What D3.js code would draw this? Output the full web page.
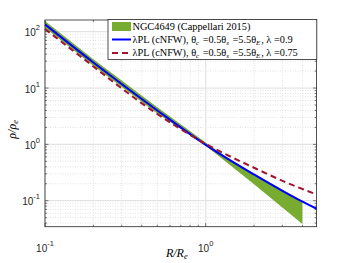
<!DOCTYPE html>
<html>
<head>
<meta charset="utf-8">
<script src="https://cdn.jsdelivr.net/npm/d3@7"></script>
<style>
  body { margin: 0; background: #fff; }
  .tick-label { font-family: "Liberation Sans", Arial, sans-serif; font-size: 10px; fill: #262626; }
  .tex { font-family: "Liberation Serif", "Times New Roman", serif; fill: #000; }
</style>
</head>
<body>
<svg id="chart"></svg>
<script>
// Cappellari 2015 band (upper / lower edge)
const bandX = [0.1, 0.2, 0.5, 1, 1.416, 2, 4];
const bandUpper = [155, 32.5, 4.55, 1.08, 0.54, 0.305, 0.098];
const bandLower = [118, 25, 3.55, 0.95, 0.43, 0.195, 0.0387];

// lambda = 0.9 model
const blueX = [0.1, 0.2, 0.5, 1, 2, 3.86, 4.9];
const blueY = [135, 28.4, 4.0, 0.98, 0.291, 0.101, 0.072];

// lambda = 0.75 model
const redX = [0.1, 0.165, 0.47, 1, 2, 3.03, 4.9];
const redY = [112, 37, 3.9, 1.02, 0.385, 0.223, 0.129];

const xMajor = [0.1, 1];
const yMajor = [0.1, 1, 10, 100];

const legendLabels = [
  'NGC4649 (Cappellari 2015)',
  'λPL (cNFW), θ<sub>c</sub> =0.5θ<sub>s</sub> =5.5θ<sub>E</sub>, λ =0.9',
  'λPL (cNFW), θ<sub>c</sub> =0.5θ<sub>s</sub> =5.5θ<sub>E</sub>, λ =0.75'
];

const config = {
  width: 350, height: 263,
  margin: { top: 20, left: 45 },
  innerW: 271.6, innerH: 206.7
};

const svg = d3.select('#chart')
  .attr('width', config.width)
  .attr('height', config.height);

const g = svg.append('g')
  .attr('transform', `translate(${config.margin.left},${config.margin.top})`);

const x = d3.scaleLog().domain([0.1, 4.9]).range([0, config.innerW]);
const y = d3.scaleLog().domain([0.03455, 161.4]).range([config.innerH, 0]);

// minor positions
const xMinor = [];
[0.1, 1].forEach(d => { for (let k = 2; k <= 9; k++) { const v = d * k; if (v <= 4.9) xMinor.push(v); } });
const yMinor = [];
[0.01, 0.1, 1, 10, 100].forEach(d => { for (let k = 2; k <= 9; k++) { const v = d * k; if (v >= 0.03455 && v <= 161.4) yMinor.push(v); } });

// grid lines
const grid = g.append('g');
grid.selectAll('.xminor').data(xMinor).join('line')
  .attr('x1', d => x(d)).attr('x2', d => x(d))
  .attr('y1', 0).attr('y2', config.innerH)
  .attr('stroke', '#cfcfcf').attr('stroke-width', 0.6).attr('stroke-dasharray', '1,1.5');
grid.selectAll('.yminor').data(yMinor).join('line')
  .attr('y1', d => y(d)).attr('y2', d => y(d))
  .attr('x1', 0).attr('x2', config.innerW)
  .attr('stroke', '#cfcfcf').attr('stroke-width', 0.6).attr('stroke-dasharray', '1,1.5');
grid.selectAll('.xmajor').data(xMajor).join('line')
  .attr('x1', d => x(d)).attr('x2', d => x(d))
  .attr('y1', 0).attr('y2', config.innerH)
  .attr('stroke', '#e3e3e3').attr('stroke-width', 1.2);
grid.selectAll('.ymajor').data(yMajor).join('line')
  .attr('y1', d => y(d)).attr('y2', d => y(d))
  .attr('x1', 0).attr('x2', config.innerW)
  .attr('stroke', '#e3e3e3').attr('stroke-width', 1.2);

// data marks
const band = bandX.map((d, i) => ({ x: d, lo: bandLower[i], hi: bandUpper[i] }));
g.append('path')
  .datum(band)
  .attr('fill', '#77ac30')
  .attr('d', d3.area()
    .x(d => x(d.x))
    .y0(d => y(d.lo))
    .y1(d => y(d.hi)));

const line = d3.line().x(d => x(d[0])).y(d => y(d[1])).curve(d3.curveMonotoneX);

g.append('path')
  .datum(blueX.map((d, i) => [d, blueY[i]]))
  .attr('fill', 'none')
  .attr('stroke', '#0000ff')
  .attr('stroke-width', 2)
  .attr('d', line);

g.append('path')
  .datum(redX.map((d, i) => [d, redY[i]]))
  .attr('fill', 'none')
  .attr('stroke', '#a2142f')
  .attr('stroke-width', 2)
  .attr('stroke-dasharray', '6,4')
  .attr('d', line);

// axes: ticks inward on all sides
const axisColor = '#262626';
const axes = g.append('g');
const tickDefs = [
  { data: xMajor, len: 3.5, scale: x, dir: 'x' },
  { data: xMinor, len: 2, scale: x, dir: 'x' },
  { data: yMajor, len: 3.5, scale: y, dir: 'y' },
  { data: yMinor, len: 2, scale: y, dir: 'y' }
];
tickDefs.forEach(t => {
  t.data.forEach(v => {
    const p = t.scale(v);
    if (t.dir === 'x') {
      axes.append('line').attr('x1', p).attr('x2', p).attr('y1', config.innerH).attr('y2', config.innerH - t.len)
        .attr('stroke', axisColor).attr('stroke-width', 0.6);
      axes.append('line').attr('x1', p).attr('x2', p).attr('y1', 0).attr('y2', t.len)
        .attr('stroke', axisColor).attr('stroke-width', 0.6);
    } else {
      axes.append('line').attr('y1', p).attr('y2', p).attr('x1', 0).attr('x2', t.len)
        .attr('stroke', axisColor).attr('stroke-width', 0.6);
      axes.append('line').attr('y1', p).attr('y2', p).attr('x1', config.innerW).attr('x2', config.innerW - t.len)
        .attr('stroke', axisColor).attr('stroke-width', 0.6);
    }
  });
});
axes.append('rect')
  .attr('width', config.innerW).attr('height', config.innerH)
  .attr('fill', 'none').attr('stroke', axisColor).attr('stroke-width', 0.8);

// tick labels
const exp = v => Math.round(Math.log10(v));
const xl = g.selectAll('.xlab').data(xMajor).join('text')
  .attr('class', 'tick-label')
  .attr('x', d => x(d))
  .attr('y', config.innerH + 25)
  .attr('text-anchor', 'middle');
xl.append('tspan').text('10');
xl.append('tspan').attr('dy', -6).attr('font-size', '7.5px').text(d => exp(d));

const yl = g.selectAll('.ylab').data(yMajor).join('text')
  .attr('class', 'tick-label')
  .attr('x', -5)
  .attr('y', d => y(d) + 4.5)
  .attr('text-anchor', 'end');
yl.append('tspan').text('10');
yl.append('tspan').attr('dy', -6).attr('font-size', '7.5px').text(d => exp(d));

// axis titles
const xt = g.append('text').attr('class', 'tex')
  .attr('x', config.innerW / 2 - 4)
  .attr('y', config.innerH + 30)
  .attr('text-anchor', 'middle')
  .attr('font-size', '12px')
  .style('font-style', 'italic');
xt.append('tspan').text('R/R');
xt.append('tspan').attr('dy', 2).attr('font-size', '8.5px').text('e');

const yt = g.append('text').attr('class', 'tex')
  .attr('transform', `translate(-29,${config.innerH / 2 + 6}) rotate(-90)`)
  .attr('text-anchor', 'middle')
  .attr('font-size', '12px')
  .style('font-style', 'italic');
yt.append('tspan').text('ρ/ρ');
yt.append('tspan').attr('dy', 2).attr('font-size', '8.5px').text('e');

// legend
const legend = svg.append('g').attr('transform', 'translate(108,19.5)');
legend.append('rect')
  .attr('width', 208.8).attr('height', 40)
  .attr('fill', '#fff').attr('stroke', axisColor).attr('stroke-width', 0.8);

const rowY = [7, 20, 33.5];
legend.append('rect').attr('x', 4).attr('y', rowY[0] - 4.5).attr('width', 19).attr('height', 9).attr('fill', '#77ac30');
legend.append('line').attr('x1', 4).attr('x2', 23).attr('y1', rowY[1]).attr('y2', rowY[1])
  .attr('stroke', '#0000ff').attr('stroke-width', 2);
legend.append('line').attr('x1', 4).attr('x2', 23).attr('y1', rowY[2]).attr('y2', rowY[2])
  .attr('stroke', '#a2142f').attr('stroke-width', 2).attr('stroke-dasharray', '6,4');

legendLabels.forEach((lab, i) => {
  const t = legend.append('text').attr('class', 'tex')
    .attr('x', 24.5).attr('y', rowY[i] + 3.3)
    .attr('font-size', '10.3px');
  // split into pieces with subscripts
  const parts = lab.split(/(<sub>.*?<\/sub>)/);
  parts.forEach(p => {
    if (p.startsWith('<sub>')) {
      const s = p.replace(/<\/?sub>/g, '');
      t.append('tspan').attr('dy', 1.8).attr('font-size', '7px').style('font-style', 'italic').text(s);
      t.append('tspan').attr('dy', -1.8).text('\u200A');
    } else if (p.length) {
      t.append('tspan').text(p);
    }
  });
});
</script>
</body>
</html>
